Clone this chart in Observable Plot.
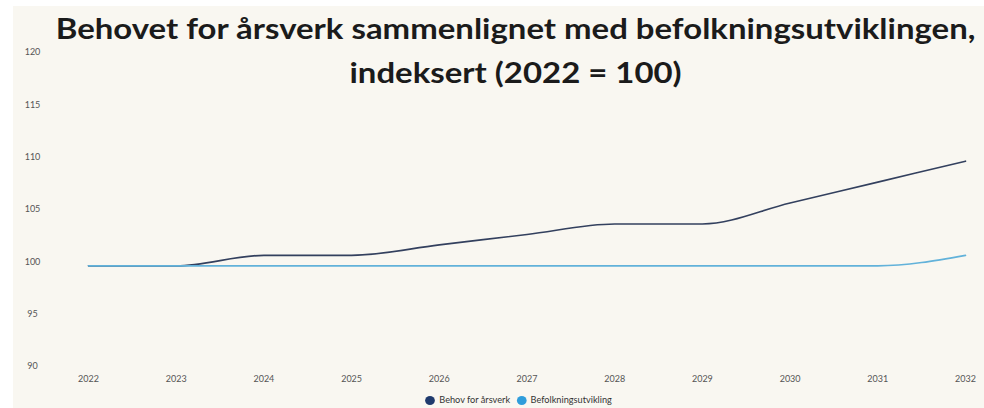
<!DOCTYPE html>
<html>
<head>
<meta charset="utf-8">
<script src="https://cdn.jsdelivr.net/npm/d3@7"></script>
<script src="https://cdn.jsdelivr.net/npm/@observablehq/plot@0.6"></script>
<style>
  html, body { margin: 0; padding: 0; background: #ffffff; }
  #wrap { position: absolute; left: 13px; top: 6px; width: 971px; height: 402px; background: #f9f7f1; overflow: hidden; font-family: Lato, sans-serif; }
  #title { position: absolute; left: 34px; right: 0; top: 0; text-align: center; font-weight: 700; font-size: 29px; line-height: 44px; color: #1b1b1b; transform: scaleX(1.135); transform-origin: 468px 0; }
  #chart { position: absolute; left: 0; top: 0; }
  #legend { position: absolute; top: 389px; left: 0; right: 0; text-align: center; font-size: 8.5px; color: #333; padding-left: 40px; transform: scaleX(1.08); transform-origin: 505px 0; }
  .item { display: inline-flex; align-items: center; margin: 0 3px; }
  .dot { width: 9px; height: 9px; border-radius: 50%; display: inline-block; margin-right: 4px; }
</style>
</head>
<body>
<div id="wrap">
  <div id="chart"></div>
  <div id="title">Behovet for årsverk sammenlignet med befolkningsutviklingen,<br>indeksert (2022 = 100)</div>
  <div id="legend"></div>
</div>
<script>
const years = [2022, 2023, 2024, 2025, 2026, 2027, 2028, 2029, 2030, 2031, 2032];
const behovForArsverk = [100, 100, 101, 101, 102, 103, 104, 104, 106, 108, 110];
const befolkningsutvikling = [100, 100, 100, 100, 100, 100, 100, 100, 100, 100, 101];
const seriesNames = ["Behov for årsverk", "Befolkningsutvikling"];
const lineColors = ["#33405e", "#62b2da"];
const dotColors = ["#1f3a6d", "#2f9ddb"];
const yTicks = [90, 95, 100, 105, 110, 115, 120];

const data = [];
years.forEach((y, i) => {
  data.push({year: y, value: behovForArsverk[i], series: seriesNames[0]});
  data.push({year: y, value: befolkningsutvikling[i], series: seriesNames[1]});
});

const plot = Plot.plot({
  width: 971,
  height: 385,
  marginLeft: 75,
  marginRight: 19,
  marginTop: 50,
  marginBottom: 21,
  style: { background: "transparent", fontFamily: "Lato, sans-serif" },
  x: { domain: [2022, 2032] },
  y: { domain: [90, 120] },
  color: { domain: seriesNames, range: lineColors },
  marks: [
    Plot.axisX({ ticks: years, tickFormat: d3.format("d"), tickSize: 0, tickPadding: 5, fontSize: 9, color: "#555", label: null }),
    Plot.axisY({ ticks: yTicks, tickSize: 0, tickPadding: 56, textAnchor: "middle", dy: -4, fontSize: 9, color: "#555", label: null }),
    Plot.line(data, { x: "year", y: "value", z: "series", stroke: "series", strokeWidth: 1.6, curve: "monotone-x" })
  ]
});
document.getElementById("chart").appendChild(plot);

const legend = document.getElementById("legend");
seriesNames.forEach((n, i) => {
  const it = document.createElement("span");
  it.className = "item";
  const d = document.createElement("span");
  d.className = "dot";
  d.style.background = dotColors[i];
  it.appendChild(d);
  it.appendChild(document.createTextNode(n));
  legend.appendChild(it);
});
</script>
</body>
</html>
